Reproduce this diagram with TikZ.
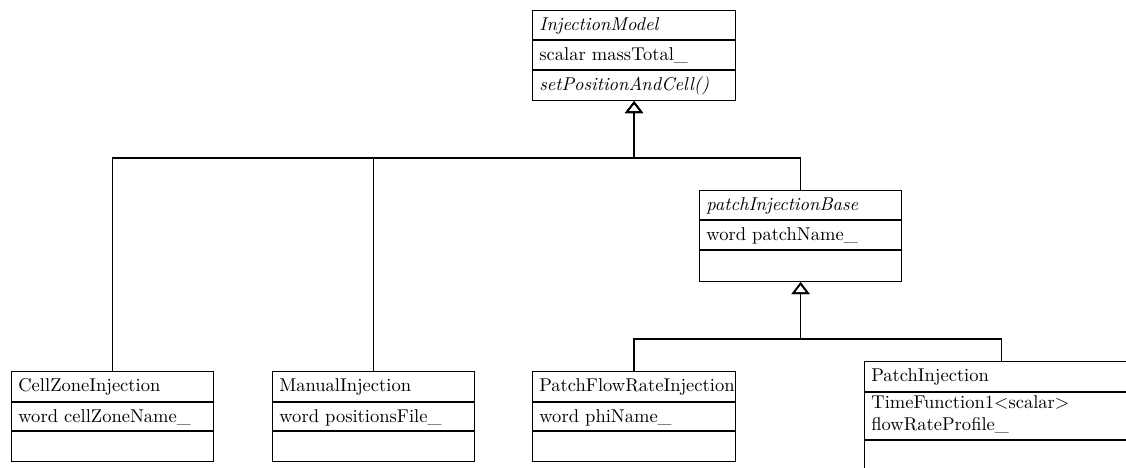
\documentclass[tikz,border=0pt]{standalone}
\usetikzlibrary{arrows.meta}
\begin{document}
\begin{tikzpicture}[x=0.54pt,y=-0.54pt,
  cls/.style={draw, line width=0.6pt, inner sep=0pt, anchor=north west},
  txt/.style={anchor=base west, inner sep=0pt},
  sep/.style={line width=0.6pt},
  inh/.style={line width=0.9pt, -{Triangle[open, width=9.7pt, length=6.5pt]}}]
\useasboundingbox (0,0) rectangle (1126,468);
\clip (0,0) rectangle (1126,468);

% InjectionModel
\node[cls, minimum width=203*0.54pt, minimum height=90*0.54pt] (im) at (532,10) {};
\draw[sep] (532,40) -- (735,40);
\draw[sep] (532,70) -- (735,70);
\node[txt] (imt) at (539,31) {\textit{InjectionModel}};
\node[txt] (ima) at (539,61) {scalar massTotal\_};
\node[txt] (imm) at (539,91) {\textit{setPositionAndCell()}};

% CellZoneInjection
\node[cls, minimum width=202*0.54pt, minimum height=90*0.54pt] (cz) at (11,371) {};
\draw[sep] (11,402) -- (213,402);
\draw[sep] (11,431) -- (213,431);
\node[txt] (czt) at (18,392) {CellZoneInjection};
\node[txt] (cza) at (18,422) {word cellZoneName\_};

% ManualInjection
\node[cls, minimum width=202*0.54pt, minimum height=90*0.54pt] (mi) at (272,371) {};
\draw[sep] (272,402) -- (474,402);
\draw[sep] (272,431) -- (474,431);
\node[txt] (mit) at (279,392) {ManualInjection};
\node[txt] (mia) at (279,422) {word positionsFile\_};

% PatchFlowRateInjection
\node[cls, minimum width=203*0.54pt, minimum height=90*0.54pt] (pf) at (532,371) {};
\draw[sep] (532,402) -- (735,402);
\draw[sep] (532,431) -- (735,431);
\node[txt] (pft) at (539,392) {PatchFlowRateInjection};
\node[txt] (pfa) at (539,422) {word phiName\_};

% patchInjectionBase
\node[cls, minimum width=202*0.54pt, minimum height=91*0.54pt] (pb) at (699,190) {};
\draw[sep] (699,220) -- (901,220);
\draw[sep] (699,250) -- (901,250);
\node[txt] (pbt) at (706,211) {\textit{patchInjectionBase}};
\node[txt] (pba) at (706,241) {word patchName\_};

% PatchInjection (cut off by the page edge)
\node[cls, minimum width=274*0.54pt, minimum height=130*0.54pt] (pj) at (864,361) {};
\draw[sep] (864,392) -- (1138,392);
\draw[sep] (864,440) -- (1138,440);
\node[txt] (pjt) at (871,382) {PatchInjection};
\node[txt] (pja) at (871,408) {TimeFunction1\textless scalar\textgreater};
\node[txt] (pjb) at (871,430) {flowRateProfile\_};

% inheritance connectors
\path (im.south) ++(0,57) coordinate (b1);
\path (pb.south) ++(0,57) coordinate (b2);
\draw[inh] (cz.north) |- (b1) -- (im.south);
\draw[inh] (mi.north) |- (b1) -- (im.south);
\draw[inh] (pb.north) |- (b1) -- (im.south);
\draw[inh] (pf.north) |- (b2) -- (pb.south);
\draw[inh] (pj.north) |- (b2) -- (pb.south);
\end{tikzpicture}
\end{document}
